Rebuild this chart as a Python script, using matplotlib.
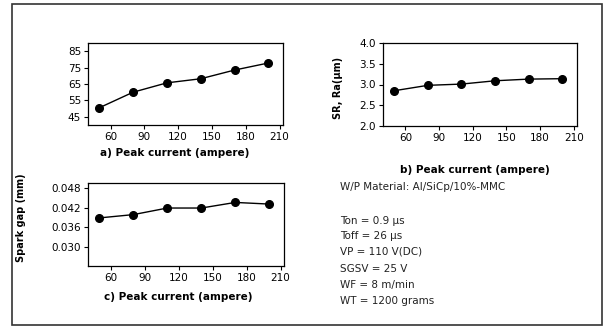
import matplotlib
matplotlib.use('Agg')
import matplotlib.pyplot as plt
from matplotlib.patches import Rectangle

# peak current (ampere)
corriente = [50, 80, 110, 140, 170, 200]
# a) cutting speed / MRR
valores_a = [50.5, 60, 65.7, 68.2, 73.5, 77.8]
# b) SR, Ra (um)
valores_b = [2.85, 2.98, 3.01, 3.09, 3.13, 3.14]
# c) spark gap (mm)
valores_c = [0.0389, 0.0399, 0.0419, 0.0419, 0.0436, 0.0431]

xticks = [60, 90, 120, 150, 180, 210]
yticks_a = [45, 55, 65, 75, 85]
yticks_b = [2.0, 2.5, 3.0, 3.5, 4.0]
yticks_c = [0.030, 0.036, 0.042, 0.048]

info = ['W/P Material: Al/SiCp/10%-MMC', 'Ton = 0.9 \u00b5s', 'Toff = 26 \u00b5s',
        'VP = 110 V(DC)', 'SGSV = 25 V', 'WF = 8 m/min', 'WT = 1200 grams']
info_y = [187, 221, 236, 252, 269, 285, 301]

W, H = 607, 329
fig = plt.figure(figsize=(W / 100, H / 100), dpi=100)
fig.patch.set_facecolor('white')
fig.patches.append(Rectangle((12 / W, 1 - 325 / H), 590 / W, 321 / H, transform=fig.transFigure,
                             fill=False, edgecolor='#333333', linewidth=1.2))

def grafico(pos, yvals, yticks, ylim, yfmt):
    ax = fig.add_axes(pos)
    ax.plot(corriente, yvals, color='black', linewidth=1, marker='o', markersize=5.5)
    ax.set_xlim(40, 213)
    ax.set_ylim(*ylim)
    ax.set_xticks(xticks)
    ax.set_yticks(yticks)
    ax.set_yticklabels([yfmt % v for v in yticks])
    ax.tick_params(direction='out', length=3, labelsize=7.5, pad=2)
    for s in ax.spines.values():
        s.set_linewidth(0.9)
    return ax

ax1 = grafico([88 / W, 1 - 125 / H, 195 / W, 82 / H], valores_a, yticks_a, (40, 90), '%d')
ax2 = grafico([383 / W, 1 - 126 / H, 194 / W, 83 / H], valores_b, yticks_b, (2.0, 4.0), '%.1f')
ax3 = grafico([88 / W, 1 - 266 / H, 196 / W, 83 / H], valores_c, yticks_c, (0.0243, 0.0495), '%.3f')

fig.text(175 / W, 1 - 153 / H, 'a) Peak current (ampere)', ha='center', va='center',
         fontsize=7.5, fontweight='bold')
fig.text(475 / W, 1 - 170 / H, 'b) Peak current (ampere)', ha='center', va='center',
         fontsize=7.5, fontweight='bold')
fig.text(178 / W, 1 - 297 / H, 'c) Peak current (ampere)', ha='center', va='center',
         fontsize=7.5, fontweight='bold')
fig.text(338 / W, 1 - 88 / H, 'SR, Ra(\u00b5m)', ha='center', va='center', rotation=90,
         fontsize=7, fontweight='bold')
fig.text(21 / W, 1 - 218 / H, 'Spark gap (mm)', ha='center', va='center', rotation=90,
         fontsize=7, fontweight='bold')

for linea, yy in zip(info, info_y):
    fig.text(340 / W, 1 - yy / H, linea, ha='left', va='center', fontsize=7.5, color='#222222')

fig.savefig('out.png', dpi=100)
